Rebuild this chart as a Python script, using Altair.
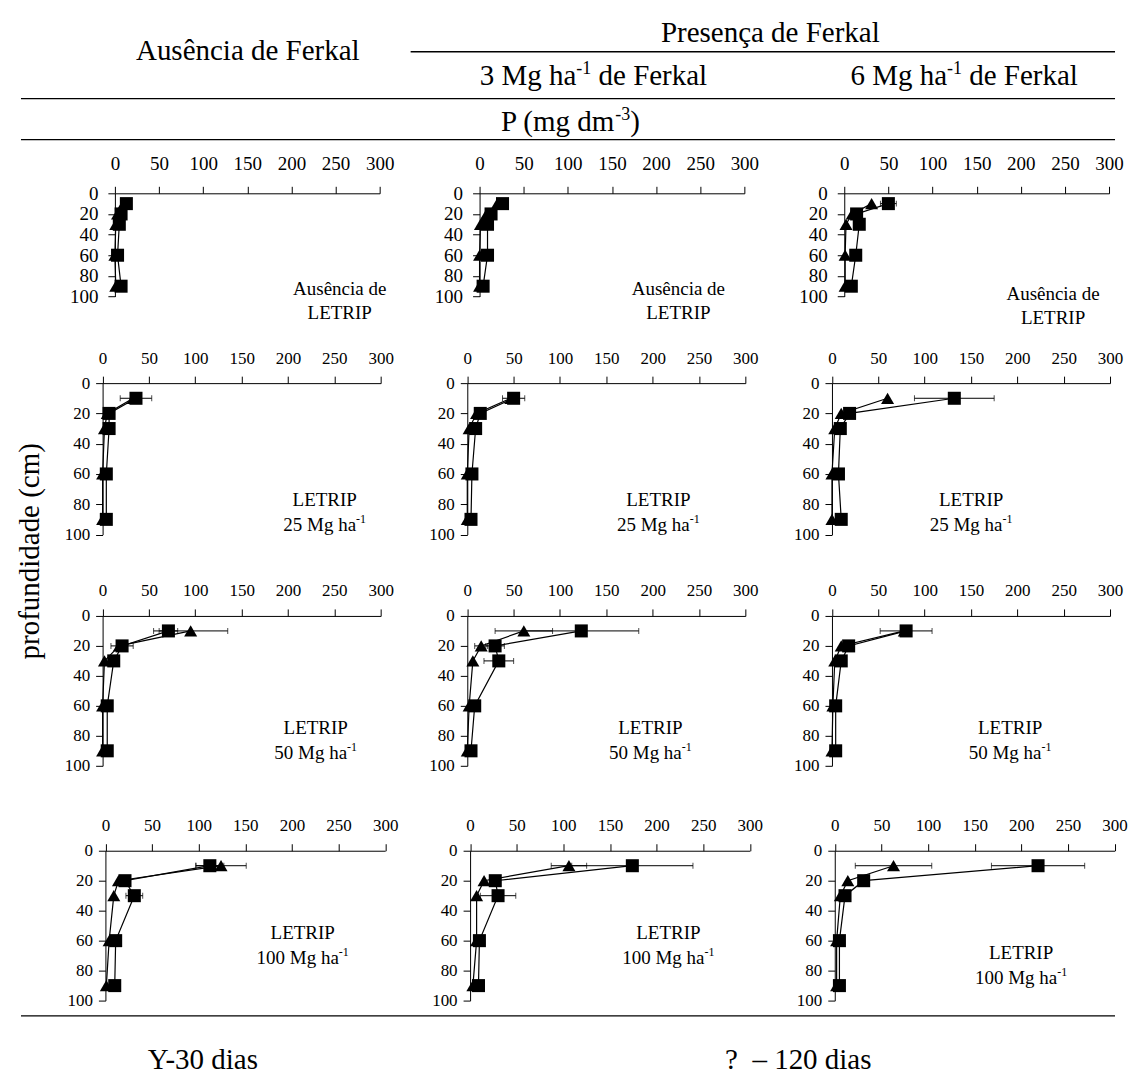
import altair as alt
import pandas as pd

# ---------------------------------------------------------------------------
# Data: extractable P (mg dm-3) by depth.
# Outer index = LETRIP dose row (0, 25, 50, 100 Mg/ha),
# inner index = Ferkal column (absent, 3 Mg/ha, 6 Mg/ha).
# ---------------------------------------------------------------------------
depths = [10, 20, 30, 60, 90]
depth_ticks = [0, 20, 40, 60, 80, 100]
p_ticks = [0, 50, 100, 150, 200, 250, 300]

square_p = [
    [[13, 7, 5, 3, 7], [26, 13, 9, 9, 4], [50, 14, 17, 13, 8]],
    [[36, 7, 7, 4, 4], [50, 14, 9, 5, 4], [132, 19, 9, 7, 10]],
    [[71, 21, 12, 5, 5], [123, 30, 34, 8, 4], [80, 18, 10, 4, 4]],
    [[112, 21, 31, 11, 10], [174, 27, 30, 10, 9], [218, 31, 11, 5, 5]],
]
triangle_p = [
    [[10, 3, 1, 0, 1], [20, 8, 1, 0, 0], [31, 9, 2, 1, 1]],
    [[33, 5, 2, 0, 0], [47, 10, 2, 0, 0], [60, 10, 3, 0, 0]],
    [[95, 18, 2, 0, 0], [61, 15, 6, 2, 0], [78, 10, 3, 1, 0]],
    [[124, 14, 9, 4, 1], [106, 15, 7, 7, 3], [63, 14, 6, 2, 2]],
]
# half-width of the error bars (0 = bar hidden behind the marker)
square_err = [
    [[0, 0, 0, 0, 0], [0, 0, 0, 0, 0], [9, 0, 0, 0, 0]],
    [[17, 0, 0, 0, 0], [12, 0, 0, 0, 0], [43, 0, 0, 0, 0]],
    [[10, 12, 0, 0, 0], [62, 10, 16, 0, 0], [28, 0, 0, 0, 0]],
    [[15, 0, 9, 0, 0], [65, 0, 19, 0, 0], [50, 0, 0, 0, 0]],
]
triangle_err = [
    [[0, 0, 0, 0, 0], [0, 0, 0, 0, 0], [0, 0, 0, 0, 0]],
    [[0, 0, 0, 0, 0], [0, 0, 0, 0, 0], [0, 0, 0, 0, 0]],
    [[40, 0, 0, 0, 0], [31, 7, 0, 0, 0], [0, 0, 0, 0, 0]],
    [[27, 0, 0, 0, 0], [19, 0, 0, 0, 0], [41, 0, 0, 0, 0]],
]

row_label_top = ["Ausência de", "LETRIP", "LETRIP", "LETRIP"]
row_label_bottom = ["LETRIP", "25 Mg ha", "50 Mg ha", "100 Mg ha"]

# ---------------------------------------------------------------------------
# Layout (page pixels)
# ---------------------------------------------------------------------------
FONT = "Liberation Serif"
cell_left = [100, 465, 830]
cell_top = [191.7, 381.5, 614, 849]
col_cell_w = [365, 365, 305]
row_cell_h = [189.8, 232.5, 235, 160]
row_x0 = [14, 1.7, 1.7, 4.5]
row_xw = [265, 278.3, 278.3, 280]
row_yh = [103.3, 151.5, 150, 150]
tick_font = [19, 17, 17, 17]
label_pad = [13, 9, 9, 9]

ann_cx = [[339, 678, 1053], [324, 658, 971], [315, 650, 1010], [302, 668, 1021]]
ann_cy = [[286, 286, 291], [497, 497, 497], [725, 725, 725], [930, 930, 950]]
ANN_SIZE = 19

one = pd.DataFrame({"k": [0]})

# Times / Liberation Serif advance widths (per 1000 em)
ADV = {" ": 250, "-": 333, "(": 333, ")": 333, "?": 444, "–": 500,
       "A": 722, "F": 556, "L": 611, "E": 611, "T": 611, "R": 667, "I": 333,
       "P": 556, "M": 889, "Y": 722,
       "a": 444, "c": 444, "d": 500, "e": 444, "g": 500, "h": 500, "i": 278,
       "k": 500, "l": 278, "m": 778, "n": 500, "o": 500, "p": 500, "r": 333,
       "s": 389, "u": 500, "f": 333, "ç": 444, "ê": 444}


def text_w(s, size):
    return sum(ADV.get(ch, 500) for ch in s) * size / 1000.0


def txt(x, y, s, size, align="center", angle=0):
    return alt.Chart(one).mark_text(
        text=s, font=FONT, fontSize=size, align=align, baseline="alphabetic",
        angle=angle, color="black"
    ).encode(x=alt.value(x), y=alt.value(y))


def rich(cx, base_y, segs):
    """Centred run of text pieces; each piece is (text, size, raise)."""
    total = sum(text_w(t, s) for t, s, _ in segs)
    x = cx - total / 2.0
    out = []
    for t, s, r in segs:
        lead = len(t) - len(t.lstrip(" "))
        out.append(txt(x + lead * 250 * s / 1000.0, base_y - r, t.strip(), s, align="left"))
        x += text_w(t, s)
    return out


def hrule(x1, x2, y):
    return alt.Chart(one).mark_rule(color="black", strokeWidth=1.3).encode(
        x=alt.value(x1), x2=alt.value(x2), y=alt.value(y))


def page_layers(ox, oy):
    """Headings, separators and shared titles, drawn in page coordinates."""
    L = []
    # anchor the page's top-left corner
    L.append(alt.Chart(one).mark_rule(color="white", strokeWidth=1).encode(
        x=alt.value(-ox), x2=alt.value(-ox + 1), y=alt.value(-oy)))
    H = 29
    L.append(txt(247 - ox, 58 - oy, "Ausência de Ferkal", H))
    L.append(txt(770 - ox, 40 - oy, "Presença de Ferkal", H))
    L.append(hrule(410 - ox, 1115 - ox, 50 - oy))
    L += rich(593 - ox, 83 - oy, [("3 Mg ha", H, 0), ("-1", 18, 11), (" de Ferkal", H, 0)])
    L += rich(964 - ox, 83 - oy, [("6 Mg ha", H, 0), ("-1", 18, 11), (" de Ferkal", H, 0)])
    L.append(hrule(20 - ox, 1115 - ox, 97 - oy))
    L += rich(570 - ox, 129 - oy, [("P (mg dm", H, 0), ("-3", 18, 11), (")", H, 0)])
    L.append(hrule(20 - ox, 1115 - ox, 138 - oy))
    L.append(txt(38 - ox, 550 - oy, "profundidade (cm)", H, angle=270))
    L.append(hrule(20 - ox, 1115 - ox, 1015 - oy))
    L.append(txt(202 - ox, 1068 - oy, "Y-30 dias", H))
    L.append(txt(798 - ox, 1068 - oy, "?\u00a0\u00a0– 120 dias", H))
    return L


def panel(r, c):
    recs = []
    for name, vals, errs in (("quadrado", square_p[r][c], square_err[r][c]),
                             ("triangulo", triangle_p[r][c], triangle_err[r][c])):
        for d, v, e in zip(depths, vals, errs):
            recs.append({"serie": name, "prof": d, "p": v, "lo": v - e, "hi": v + e, "err": e})
    df = pd.DataFrame(recs)

    x0, xw, yh = row_x0[r], row_xw[r], row_yh[r]
    fs = tick_font[r]
    xs = alt.Scale(domain=[0, 300], range=[x0, x0 + xw], nice=False, zero=False)
    ys = alt.Scale(domain=[0, 100], range=[0, yh], nice=False, zero=False)
    xax = alt.Axis(orient="top", values=p_ticks, grid=False, tickSize=7, labelPadding=label_pad[r],
                   labelFont=FONT, labelFontSize=fs, labelColor="black", domainColor="black",
                   tickColor="black", labelFlush=False, labelOverlap=False, format="d")
    yax = alt.Axis(orient="left", values=depth_ticks, grid=False, tickSize=7, labelPadding=label_pad[r] - 3,
                   labelFont=FONT, labelFontSize=fs, labelColor="black", domainColor="black",
                   tickColor="black", offset=-x0, labelFlush=False, labelOverlap=False, format="d")

    def X(f):
        return alt.X(f, type="quantitative", scale=xs, axis=xax, title=None)

    def Y():
        return alt.Y("prof", type="quantitative", scale=ys, axis=yax, title=None)

    base = alt.Chart(df)
    lines = base.mark_line(color="black", strokeWidth=1.2).encode(
        x=X("p"), y=Y(), detail="serie:N", order="prof:Q")
    bars = base.transform_filter("datum.err > 0")
    err = bars.mark_rule(color="black", strokeWidth=1).encode(
        x=X("lo"), x2=alt.X2("hi"), y=Y())
    cap_lo = bars.mark_tick(orient="vertical", size=6, thickness=1, color="black").encode(x=X("lo"), y=Y())
    cap_hi = bars.mark_tick(orient="vertical", size=6, thickness=1, color="black").encode(x=X("hi"), y=Y())
    pts = base.mark_point(filled=True, opacity=1, color="black", size=170).encode(
        x=X("p"), y=Y(),
        shape=alt.Shape("serie:N", scale=alt.Scale(domain=["quadrado", "triangulo"],
                                                   range=["square", "triangle-up"]), legend=None))

    ox, oy = cell_left[c], cell_top[r]
    cx, cy = ann_cx[r][c] - ox, ann_cy[r][c] - oy
    ann = [txt(cx, cy + 7, row_label_top[r], ANN_SIZE)]
    if r == 0:
        ann.append(txt(cx, cy + 32, row_label_bottom[r], ANN_SIZE))
    else:
        ann += rich(cx, cy + 32, [(row_label_bottom[r], ANN_SIZE, 0), ("-1", 12, 8)])

    layers = [lines, err, cap_lo, cap_hi, pts] + ann
    if r == 0 and c == 0:
        layers += page_layers(ox, oy)
    return alt.layer(*layers).properties(width=col_cell_w[c], height=row_cell_h[r])


panels = [panel(r, c) for r in range(4) for c in range(3)]

chart = alt.concat(*panels, columns=3, spacing=0, bounds="flush", align="each").properties(
    padding=0, background="white"
).configure_view(stroke=None)

chart.save("out.html", embed_options={"renderer": "svg", "actions": False})
